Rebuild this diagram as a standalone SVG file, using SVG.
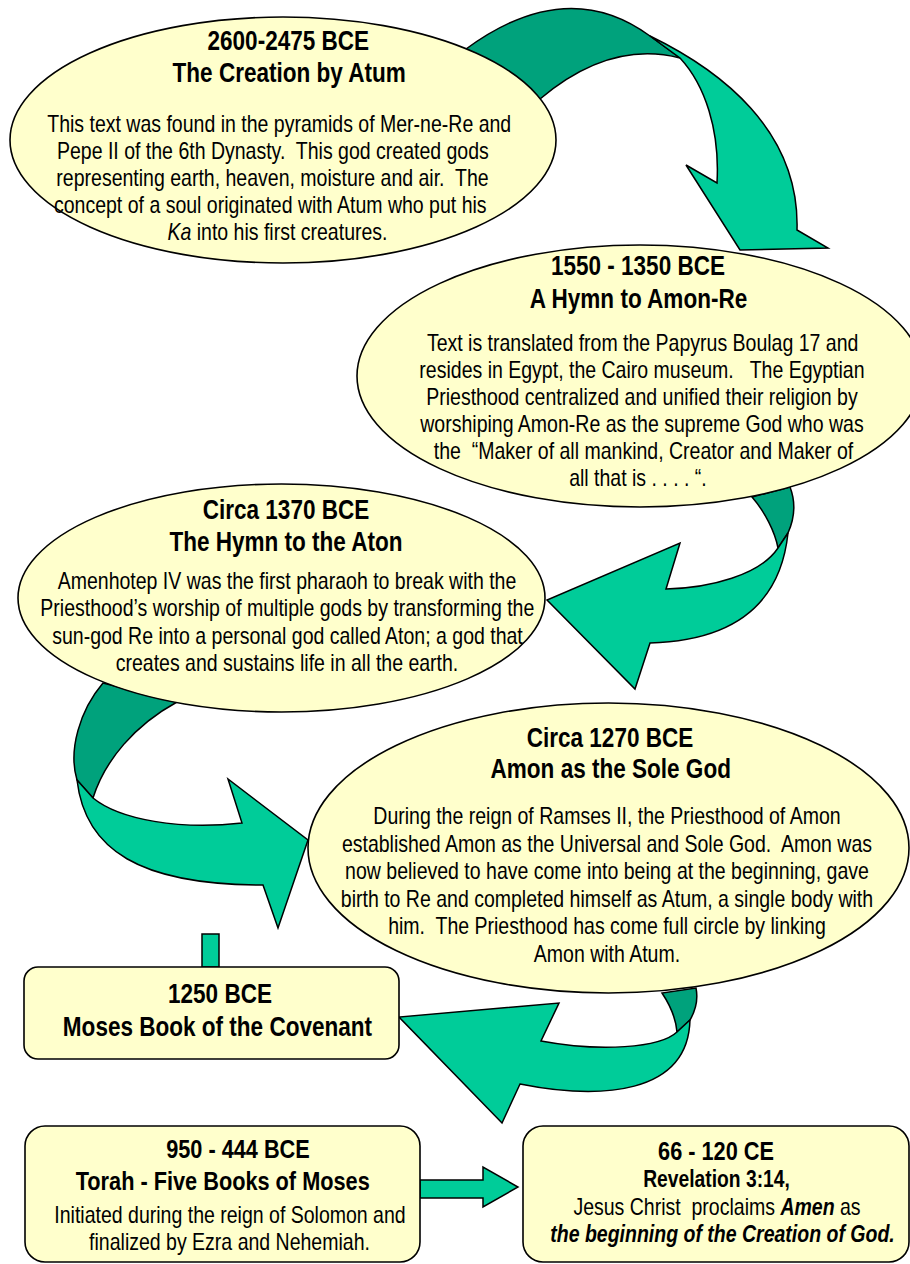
<svg xmlns="http://www.w3.org/2000/svg" width="910" height="1264" viewBox="0 0 910 1264">
<style>
.bg{fill:#ffffff}
.node{fill:#ffffcc;stroke:#000;stroke-width:1.6}
.lt{fill:#00cc99;stroke:#000;stroke-width:1.5;stroke-linejoin:miter}
.dk{fill:#00a27c;stroke:#000;stroke-width:1.5;stroke-linejoin:miter}
text{font-family:"Liberation Sans",Arial,Helvetica,sans-serif;fill:#000;text-anchor:middle;white-space:pre}
.t{font-weight:bold;font-size:27.5px}
.t2{font-weight:bold;font-size:26.5px}
.t3{font-weight:bold;font-size:23.5px}
.b{font-size:23.8px}
.bi{font-weight:bold;font-style:italic}
.it{font-style:italic}
</style>
<rect class="bg" x="0" y="0" width="910" height="1264"/>
<g id="connectors">
  <path class="dk" d="M466,49 Q567,-25 650,36 L680,58 Q610,40 540,99 Z"/>
  <path class="lt" d="M650,36 C720,70 800,130 797,230 L828,248 L740,250 L686,165 L717,183 C720,130 705,85 680,58 Z"/>
  <path class="dk" d="M752,497 C765,512 775,532 778,548 L788,533 C796,515 795,500 790,487 Z"/>
  <path class="lt" d="M788,533 C782,590 750,640 650,643 L635,689 L547,600 L680,543 L666,589 C710,588 760,575 778,548 Z"/>
  <path class="dk" d="M103,683 C80,710 68,750 77,780 L93,798 C105,760 135,725 177,702 Z"/>
  <path class="lt" d="M77,780 C85,850 140,885 263,885 L278,928 L308,840 L228,779 L242,823 C180,830 120,820 93,798 Z"/>
  <path class="dk" d="M662,993 C670,1005 676,1020 677,1032 L690,1020 C697,1008 698,998 696,988 Z"/>
  <path class="lt" d="M690,1020 C688,1095 600,1100 520,1084 L502,1123 L399,1017 L559,1003 L541,1041 C600,1052 660,1048 677,1032 Z"/>
  <rect class="lt" x="202" y="934" width="17" height="33"/>
  <path class="lt" d="M420,1180 L483,1180 L483,1167 L518,1187 L483,1207 L483,1198 L420,1198 Z"/>
</g>
<g id="node-atum">
  <ellipse class="node" cx="283" cy="140" rx="273" ry="123"/>
  <g transform="scale(0.82 1)">
    <text class="t" x="351.6" y="50">2600-2475 BCE</text>
    <text class="t" x="352.7" y="82">The Creation by Atum</text>
    <text class="b" x="340.5" y="132">This text was found in the pyramids of Mer-ne-Re and</text>
    <text class="b" x="332.8" y="159">Pepe II of the 6th Dynasty.  This god created gods</text>
    <text class="b" x="332.3" y="186">representing earth, heaven, moisture and air.  The</text>
    <text class="b" x="329.6" y="213">concept of a soul originated with Atum who put his</text>
    <text class="b" x="338.4" y="240"><tspan class="it">Ka</tspan> into his first creatures.</text>
  </g>
</g>
<g id="node-amonre">
  <ellipse class="node" cx="640" cy="376" rx="283" ry="131"/>
  <g transform="scale(0.82 1)">
    <text class="t" x="778" y="275">1550 - 1350 BCE</text>
    <text class="t" x="778.7" y="308">A Hymn to Amon-Re</text>
    <text class="b" x="783.7" y="351">Text is translated from the Papyrus Boulag 17 and</text>
    <text class="b" x="782.9" y="378">resides in Egypt, the Cairo museum.   The Egyptian</text>
    <text class="b" x="782.9" y="405">Priesthood centralized and unified their religion by</text>
    <text class="b" x="782.9" y="432">worshiping Amon-Re as the supreme God who was</text>
    <text class="b" x="784.8" y="459">the  “Maker of all mankind, Creator and Maker of</text>
    <text class="b" x="778" y="486">all that is . . . . “.</text>
  </g>
</g>
<g id="node-aton">
  <ellipse class="node" cx="281.5" cy="598" rx="263.5" ry="114"/>
  <g transform="scale(0.82 1)">
    <text class="t" x="348.8" y="519">Circa 1370 BCE</text>
    <text class="t" x="348.8" y="551">The Hymn to the Aton</text>
    <text class="b" x="350" y="589">Amenhotep IV was the first pharaoh to break with the</text>
    <text class="b" x="350.4" y="616">Priesthood’s worship of multiple gods by transforming the</text>
    <text class="b" x="350.6" y="644">sun-god Re into a personal god called Aton; a god that</text>
    <text class="b" x="350" y="671">creates and sustains life in all the earth.</text>
  </g>
</g>
<g id="node-amon">
  <ellipse class="node" cx="608.5" cy="848" rx="300.5" ry="145"/>
  <g transform="scale(0.82 1)">
    <text class="t" x="743.9" y="747">Circa 1270 BCE</text>
    <text class="t" x="744.8" y="778">Amon as the Sole God</text>
    <text class="b" x="740.2" y="824">During the reign of Ramses II, the Priesthood of Amon</text>
    <text class="b" x="740.2" y="852">established Amon as the Universal and Sole God.  Amon was</text>
    <text class="b" x="740.2" y="879">now believed to have come into being at the beginning, gave</text>
    <text class="b" x="740.2" y="907">birth to Re and completed himself as Atum, a single body with</text>
    <text class="b" x="740.2" y="934">him.  The Priesthood has come full circle by linking</text>
    <text class="b" x="740.2" y="962">Amon with Atum.</text>
  </g>
</g>
<g id="node-moses">
  <rect class="node" x="24" y="967" width="375" height="92" rx="14"/>
  <g transform="scale(0.82 1)">
    <text class="t" x="268.3" y="1003">1250 BCE</text>
    <text class="t" x="265.2" y="1036">Moses Book of the Covenant</text>
  </g>
</g>
<g id="node-torah">
  <rect class="node" x="25" y="1126" width="395" height="136" rx="20"/>
  <g transform="scale(0.82 1)">
    <text class="t2" x="290.2" y="1158">950 - 444 BCE</text>
    <text class="t2" x="271.6" y="1190">Torah - Five Books of Moses</text>
    <text class="b" x="280.5" y="1223">Initiated during the reign of Solomon and</text>
    <text class="b" x="279.9" y="1250">finalized by Ezra and Nehemiah.</text>
  </g>
</g>
<g id="node-revelation">
  <rect class="node" x="523" y="1126" width="386" height="136" rx="20"/>
  <g transform="scale(0.82 1)">
    <text class="t2" x="873.2" y="1160">66 - 120 CE</text>
    <text class="t3" x="873.8" y="1187">Revelation 3:14,</text>
    <text class="b" x="874.4" y="1215">Jesus Christ  proclaims <tspan class="bi">Amen</tspan> as</text>
    <text class="b bi" x="881.1" y="1242">the beginning of the Creation of God.</text>
  </g>
</g>
</svg>
